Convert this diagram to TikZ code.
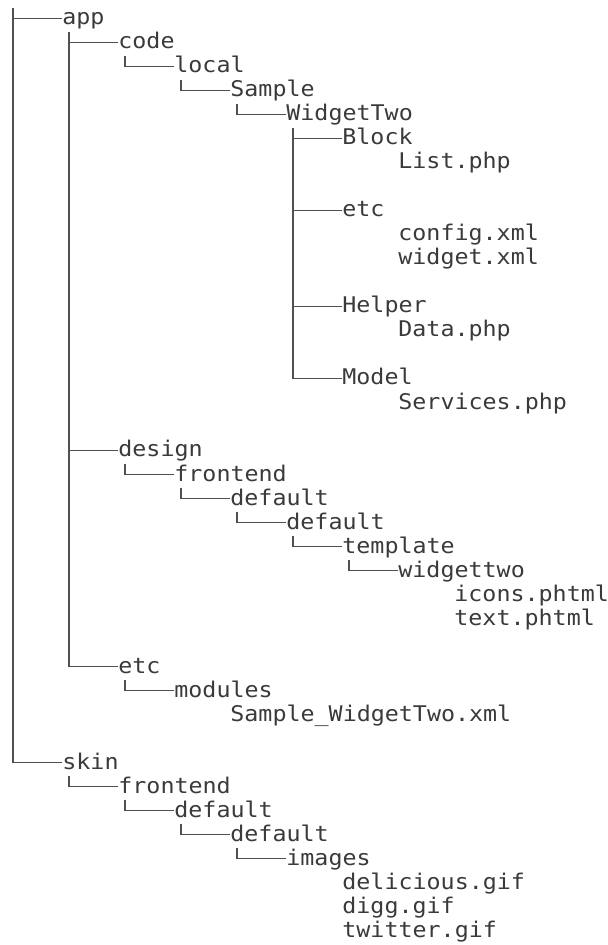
\documentclass[tikz,border=0pt]{standalone}
\usepackage{fontspec}
\setmonofont[FakeStretch=1.08]{DejaVu Sans Mono}
\definecolor{treetext}{HTML}{3A3A3A}
\definecolor{treeline}{HTML}{505050}

\begin{document}
\begin{tikzpicture}[x=0.5pt,y=-0.5pt,
    item/.style={anchor=base west,inner sep=0pt,text height=9pt,text depth=2.5pt,
      font=\ttfamily\fontsize{10.8pt}{12pt}\selectfont,text=treetext},
    branch/.style={draw=treeline,line width=0.8pt}]
  \useasboundingbox (0,0) rectangle (608,945);
  % columns are 14px wide, rows 24px high
  \coordinate (root) at (13,8);
  \node[item] (app) at (62,25) {app};
  \node[item] (code) at (118,49) {code};
  \node[item] (local) at (174,73) {local};
  \node[item] (sample) at (230,97) {Sample};
  \node[item] (widgettwo) at (286,121) {WidgetTwo};
  \node[item] (block) at (342,145) {Block};
  \node[item] (listphp) at (398,169) {List.php};
  \node[item] (etcw) at (342,217) {etc};
  \node[item] (configxml) at (398,241) {config.xml};
  \node[item] (widgetxml) at (398,265) {widget.xml};
  \node[item] (helper) at (342,313) {Helper};
  \node[item] (dataphp) at (398,337) {Data.php};
  \node[item] (model) at (342,385) {Model};
  \node[item] (servicesphp) at (398,409) {Services.php};
  \node[item] (design) at (118,457) {design};
  \node[item] (dfrontend) at (174,481) {frontend};
  \node[item] (ddefault) at (230,505) {default};
  \node[item] (ddefaultb) at (286,529) {default};
  \node[item] (template) at (342,553) {template};
  \node[item] (widgetdir) at (398,577) {widgettwo};
  \node[item] (iconsphtml) at (454,601) {icons.phtml};
  \node[item] (textphtml) at (454,625) {text.phtml};
  \node[item] (etcapp) at (118,673) {etc};
  \node[item] (modules) at (174,697) {modules};
  \node[item] (modulexml) at (230,721) {Sample\_WidgetTwo.xml};
  \node[item] (skin) at (62,769) {skin};
  \node[item] (sfrontend) at (118,793) {frontend};
  \node[item] (sdefault) at (174,817) {default};
  \node[item] (sdefaultb) at (230,841) {default};
  \node[item] (images) at (286,865) {images};
  \node[item] (delicious) at (342,889) {delicious.gif};
  \node[item] (digg) at (342,913) {digg.gif};
  \node[item] (twitter) at (342,937) {twitter.gif};

  % branches
  \foreach \c in {app,skin}
    \draw[branch] (root) |- (\c.west);
  \foreach \p/\c in {app/code,app/design,app/etcapp,code/local,local/sample,
      sample/widgettwo,widgettwo/block,widgettwo/etcw,widgettwo/helper,widgettwo/model,
      design/dfrontend,dfrontend/ddefault,ddefault/ddefaultb,ddefaultb/template,
      template/widgetdir,etcapp/modules,skin/sfrontend,sfrontend/sdefault,
      sdefault/sdefaultb,sdefaultb/images}
    \draw[branch] ([xshift=3.5pt,yshift=-3.5pt]\p.base west) |- (\c.west);
\end{tikzpicture}
\end{document}
